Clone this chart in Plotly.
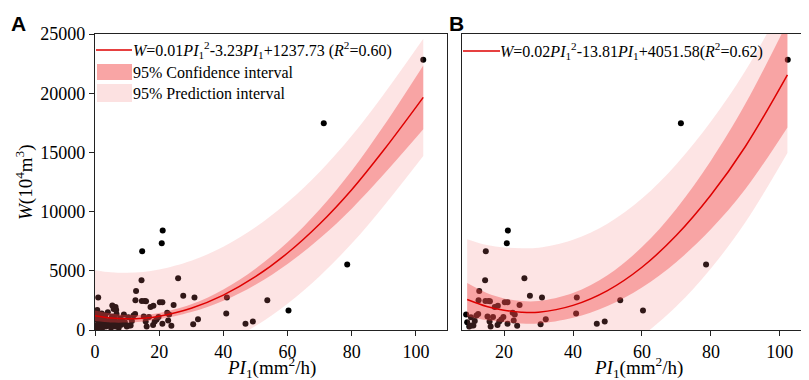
import plotly.graph_objects as go

# ---------------- data ----------------
pts_x = [0.3, 0.4, 0.6, 0.8, 1.0, 1.3, 1.5, 1.8, 2.1, 2.3, 2.6, 2.9, 3.2, 3.4, 3.7,
         4.0, 4.3, 4.6, 5.0, 5.3, 5.6, 6.0, 6.3, 6.7, 7.0, 7.4, 7.8, 8.2, 8.6, 9.0,
         0.7, 1.0, 5.4, 6.4, 5.8, 6.6,
         9.3, 9.9, 10.4, 10.6, 11.1, 11.5, 12.0, 12.5,
         12.8, 12.6, 14.5, 14.7, 14.6, 15.5, 15.9, 15.2, 15.8, 16.8, 16.1, 17.3, 18.2,
         18.1, 18.6, 19.2, 19.8, 20.2, 21.0, 20.8, 21.1,
         21.0, 22.8, 22.5, 23.1, 23.8, 24.5, 25.9, 27.5, 31.0, 32.1, 30.6,
         40.9, 41.1, 46.9, 49.2, 53.7, 60.3, 71.3, 78.6, 102.3]
pts_y = [350, 900, 1300, 150, 600, 1050, 300, 750, 1400, 200, 500, 950, 1250, 300, 650,
         1500, 400, 850, 200, 1150, 550, 950, 300, 1350, 650, 200, 1000, 450, 800, 1300,
         1690, 2740, 2060, 1940, 1770, 1690,
         650, 290, 1070, 370, 370, 760, 1220, 1350,
         3300, 2510, 4200, 6650, 2450, 2450, 2420, 1130, 710, 1100, 290, 1950, 2050,
         420, 710, 880, 1100, 2340, 2340, 7330, 8400,
         520, 800, 1450, 1300, 350, 2110, 4370, 2890, 2740, 900, 480,
         1390, 2740, 520, 720, 2510, 1650, 17470, 5525, 22815]
B_X_MIN = 9.0  # panel B only shows samples with PI1 >= ~9

# Panel A fitted curve and bands
A_x = [0, 5, 10, 15, 20, 30, 40, 50, 60, 70, 80, 90, 102.3]
A_fit = [1200, 1010, 950, 1000, 1170, 1840, 2950, 4500, 6500, 8950, 11850, 15200, 19650]
A_ci_lo = [750, 630, 630, 720, 900, 1510, 2470, 3820, 5580, 7720, 10250, 13150, 16950]
A_ci_hi = [1650, 1390, 1270, 1280, 1440, 2170, 3430, 5180, 7420, 10180, 13450, 17250, 22350]
A_pi_lo = [-2650, -2850, -2930, -2900, -2760, -2160, -1130, 330, 2220, 4550, 7300, 10480, 14700]
A_pi_hi = [5050, 4870, 4830, 4900, 5100, 5840, 7030, 8670, 10780, 13350, 16400, 19920, 24600]

# Panel B fitted curve and bands
B_x = [9.3, 15, 20, 25, 30, 40, 50, 60, 70, 80, 90, 102.2]
B_fit = [2570, 1980, 1670, 1500, 1500, 2080, 3330, 5300, 8000, 11400, 15500, 21550]
B_ci_lo = [1170, 830, 670, 550, 550, 1030, 2030, 3600, 5750, 8500, 11900, 17110]
B_ci_hi = [3970, 3130, 2670, 2450, 2450, 3130, 4630, 7000, 10250, 14300, 19100, 25990]
B_pi_lo = [-2530, -3220, -3630, -3900, -3950, -3470, -2320, -500, 2000, 5200, 9100, 14950]
B_pi_hi = [7670, 7180, 6970, 6900, 6950, 7630, 8980, 11100, 14000, 17600, 21900, 28150]

x_ticks = [0, 20, 40, 60, 80, 100]
y_ticks = [0, 5000, 10000, 15000, 20000, 25000]

eq_A = "<i>W</i>=0.01<i>PI</i><sub>1</sub><sup>2</sup>-3.23<i>PI</i><sub>1</sub>+1237.73 (<i>R</i><sup>2</sup>=0.60)"
eq_B = "<i>W</i>=0.02<i>PI</i><sub>1</sub><sup>2</sup>-13.81<i>PI</i><sub>1</sub>+4051.58(<i>R</i><sup>2</sup>=0.62)"
ci_label = "95% Confidence interval"
pi_label = "95% Prediction interval"
x_title = "<i>PI</i><sub>1</sub>(mm<sup>2</sup>/h)"
y_title = "<i>W</i>(10<sup>4</sup>m<sup>3</sup>)"

# ---------------- styles ----------------
W, H = 809, 380
ML, MR, MT, MB = 87, 2, 26, 58
PW, PH = W - ML - MR, H - MT - MB
SERIF = "Liberation Serif"
SANS = "Liberation Sans"
LINE_C = "rgb(222,0,0)"
CI_C = "rgba(240,60,60,0.38)"
PI_C = "rgba(245,120,120,0.2)"
AX_C = "#222222"

def px(xp):
    return (xp - ML) / PW

def py(yp):
    return (H - MB - yp) / PH

fig = go.Figure()

def add_panel(xa, ya, px_list, py_list, fx, fy, cilo, cihi, pilo, pihi):
    fig.add_trace(go.Scatter(x=px_list, y=py_list, mode="markers",
                             marker=dict(color="black", size=6), xaxis=xa, yaxis=ya,
                             showlegend=False, hoverinfo="x+y"))
    fig.add_trace(go.Scatter(x=fx, y=pilo, mode="lines", line=dict(width=0, shape="spline"),
                             xaxis=xa, yaxis=ya, showlegend=False, hoverinfo="skip"))
    fig.add_trace(go.Scatter(x=fx, y=pihi, mode="lines", line=dict(width=0, shape="spline"),
                             fill="tonexty", fillcolor=PI_C, xaxis=xa, yaxis=ya,
                             showlegend=False, hoverinfo="skip"))
    fig.add_trace(go.Scatter(x=fx, y=cilo, mode="lines", line=dict(width=0, shape="spline"),
                             xaxis=xa, yaxis=ya, showlegend=False, hoverinfo="skip"))
    fig.add_trace(go.Scatter(x=fx, y=cihi, mode="lines", line=dict(width=0, shape="spline"),
                             fill="tonexty", fillcolor=CI_C, xaxis=xa, yaxis=ya,
                             showlegend=False, hoverinfo="skip"))
    fig.add_trace(go.Scatter(x=fx, y=fy, mode="lines", line=dict(color=LINE_C, width=1.5, shape="spline"),
                             xaxis=xa, yaxis=ya, showlegend=False))

add_panel("x", "y", pts_x, pts_y, A_x, A_fit, A_ci_lo, A_ci_hi, A_pi_lo, A_pi_hi)
bx = [x for x in pts_x if x >= B_X_MIN]
by = [y for x, y in zip(pts_x, pts_y) if x >= B_X_MIN]
add_panel("x2", "y2", bx, by, B_x, B_fit, B_ci_lo, B_ci_hi, B_pi_lo, B_pi_hi)

# ---------------- custom legends / titles ----------------
shapes = []
annotations = []

def text(t, xp, yp, size=16, xanchor="left", family=SERIF, angle=0):
    annotations.append(dict(text=t, xref="paper", yref="paper", x=px(xp), y=py(yp), xanchor=xanchor,
                            yanchor="middle", showarrow=False, textangle=angle,
                            font=dict(family=family, size=size, color="black")))

# panel A legend
shapes.append(dict(type="line", xref="paper", yref="paper", x0=px(88), x1=px(124), y0=py(42), y1=py(42),
                   line=dict(color=LINE_C, width=1.5)))
shapes.append(dict(type="rect", xref="paper", yref="paper", x0=px(89), x1=px(124), y0=py(72), y1=py(56),
                   fillcolor="rgb(249,165,165)", line=dict(width=0)))
shapes.append(dict(type="rect", xref="paper", yref="paper", x0=px(89), x1=px(124), y0=py(94), y1=py(76),
                   fillcolor="rgb(252,225,225)", line=dict(width=0)))
text(eq_A, 123, 42)
text(ci_label, 123, 64)
text(pi_label, 123, 85)
# panel B legend
shapes.append(dict(type="line", xref="paper", yref="paper", x0=px(455), x1=px(492), y0=py(43), y1=py(43),
                   line=dict(color=LINE_C, width=1.5)))
text(eq_B, 490, 43)
# panel letters
text("<b>A</b>", 1, 15, size=21, family=SANS)
text("<b>B</b>", 439, 15, size=21, family=SANS)
# axis titles
text(x_title, 263, 359, size=19, xanchor="center")
text(x_title, 630, 359, size=19, xanchor="center")
text(y_title, 16, 174, size=19, xanchor="center", angle=-90)

axis_common = dict(showline=True, mirror=True, linecolor=AX_C, linewidth=1.3, showgrid=False,
                   zeroline=False, ticks="outside", ticklen=5, tickwidth=1.2, tickcolor=AX_C,
                   tickfont=dict(family=SERIF, size=18, color="black"))

domA = [0, (439 - ML) / PW]
domB = [(454 - ML) / PW, 1]

fig.update_layout(
    width=W, height=H,
    margin=dict(l=ML, r=MR, t=MT, b=MB),
    paper_bgcolor="white", plot_bgcolor="white",
    showlegend=False,
    shapes=shapes, annotations=annotations,
    xaxis=dict(domain=domA, range=[0, 109.7], tickvals=x_ticks, anchor="y", **axis_common),
    yaxis=dict(domain=[0, 1], range=[0, 25000], tickvals=y_ticks, tickformat="d", anchor="x",
               **axis_common),
    xaxis2=dict(domain=domB, range=[7.8, 110.2], tickvals=x_ticks, anchor="y2", **axis_common),
    yaxis2=dict(domain=[0, 1], range=[0, 25000], anchor="x2", showticklabels=False,
                **{**axis_common, "ticks": ""}),
)

fig.write_html("out.html")
